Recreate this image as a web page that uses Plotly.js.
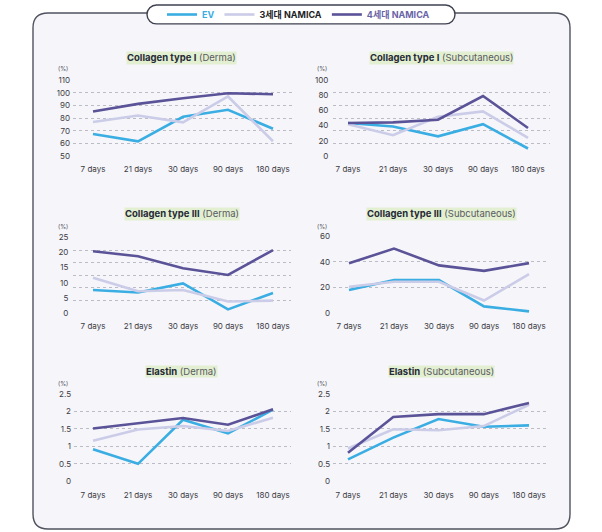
<!DOCTYPE html>
<html><head><meta charset="utf-8">
<script src="https://cdn.plot.ly/plotly-3.0.1.min.js"></script>
<style>html,body{margin:0;padding:0;background:#fff}#chart{width:602px;height:532px}</style>
</head><body><div id="chart"></div><script>
// ---------- data ----------
const days = ['7 days', '21 days', '30 days', '90 days', '180 days'];
const seriesNames = ['EV', '3세대 NAMICA', '4세대 NAMICA'];

const col1DermaEV = [67.5, 61.7, 81, 86.5, 71.6];
const col1Derma3  = [76.9, 82, 76.6, 97, 61.7];
const col1Derma4  = [85.2, 91.2, 95.6, 99.6, 98.8];

const col1SubEV = [43.5, 39, 26, 42, 10];
const col1Sub3  = [42, 27.4, 51.7, 58.7, 24];
const col1Sub4  = [43.5, 44.3, 47.8, 79, 37];

const col3DermaEV = [7.6, 6.8, 9.8, 1.2, 6.6];
const col3Derma3  = [11.7, 7.2, 7.6, 3.8, 4.1];
const col3Derma4  = [20.4, 18.8, 14.8, 12.6, 20.8];

const col3SubEV = [18, 25.8, 25.8, 5.2, 1.3];
const col3Sub3  = [20.6, 24.5, 24.5, 9.8, 30.4];
const col3Sub4  = [38.9, 50.5, 37.3, 33, 39.1];

const elaDermaEV = [0.92, 0.5, 1.76, 1.37, 2.05];
const elaDerma3  = [1.16, 1.48, 1.58, 1.44, 1.82];
const elaDerma4  = [1.51, 1.65, 1.81, 1.62, 2.06];

const elaSubEV = [0.63, 1.25, 1.78, 1.56, 1.6];
const elaSub3  = [0.94, 1.49, 1.46, 1.58, 2.19];
const elaSub4  = [0.82, 1.84, 1.92, 1.92, 2.24];

const titlesBold = ['Collagen type I', 'Collagen type I', 'Collagen type III', 'Collagen type III', 'Elastin', 'Elastin'];
const titlesRest = ['(Derma)', '(Subcutaneous)', '(Derma)', '(Subcutaneous)', '(Derma)', '(Subcutaneous)'];

const ticks1 = [50, 60, 70, 80, 90, 100, 110];
const ticks2 = [0, 20, 40, 60, 80, 100];
const ticks3 = [0, 5, 10, 15, 20, 25];
const ticks4 = [0, 20, 40, 60];
const ticks5 = [0, 0.5, 1, 1.5, 2, 2.5];
const tickText5 = ['0', '0.5', '1', '1.5', '2', '2.5'];

const panelData = [
  [col1DermaEV, col1Derma3, col1Derma4],
  [col1SubEV, col1Sub3, col1Sub4],
  [col3DermaEV, col3Derma3, col3Derma4],
  [col3SubEV, col3Sub3, col3Sub4],
  [elaDermaEV, elaDerma3, elaDerma4],
  [elaSubEV, elaSub3, elaSub4]
];

// ---------- styling / layout ----------
const W = 602, H = 532;
const colors = ['#3aaee2', '#cbcce8', '#5a5398'];
const legendColors = ['#3aaee2', '#1e1e28', '#6a63a8'];
const FONT = 'Inter, "Noto Sans CJK KR", sans-serif';
const gridColor = '#bcbcc6';

// gridSteps: number of dotted grid intervals when they differ from the labelled ticks
const panels = [
  {x0:73, x1:292, yt:78,  yb:155,   c0:93,  c4:273, yr:[50,110], labels:ticks1, text:null, gridSteps:0, tx:181, ty:56,  px:63,  py:67},
  {x0:333,x1:550, yt:78,  yb:155,   c0:348, c4:528, yr:[0,100],  labels:ticks2, text:null, gridSteps:6, tx:441, ty:56, px:322, py:67},
  {x0:73, x1:291, yt:236, yb:312.5, c0:93,  c4:273, yr:[0,25],   labels:ticks3, text:null, gridSteps:6, tx:182, ty:213, px:63, py:225},
  {x0:333,x1:549, yt:235, yb:312.5, c0:349, c4:529, yr:[0,60],   labels:ticks4, text:null, gridSteps:0, tx:441, ty:213, px:322, py:225},
  {x0:74, x1:291, yt:393, yb:481.5, c0:93,  c4:273, yr:[0,2.5],  labels:ticks5, text:tickText5, gridSteps:0, tx:181, ty:371, px:63, py:383},
  {x0:333,x1:549, yt:393, yb:481.5, c0:348, c4:529, yr:[0,2.5],  labels:ticks5, text:tickText5, gridSteps:0, tx:441, ty:371, px:322, py:383}
];

const px2x = x => x / W;
const px2y = y => 1 - y / H;

const data = [];
const layout = {
  width: W, height: H,
  margin: {l:0, r:0, t:0, b:0},
  paper_bgcolor: '#ffffff',
  plot_bgcolor: 'rgba(0,0,0,0)',
  font: {family: FONT, color: '#444'},
  showlegend: true,
  legend: {
    orientation: 'h', x: px2x(162), xanchor: 'left', y: px2y(12.5), yanchor: 'middle',
    bgcolor: 'rgba(0,0,0,0)', borderwidth: 0, font: {size: 9, family: FONT},
    itemwidth: 30, itemclick: false, itemdoubleclick: false
  },
  shapes: [], annotations: []
};

panels.forEach((p, i) => {
  const n = i + 1;
  const xa = 'xaxis' + (n === 1 ? '' : n), ya = 'yaxis' + (n === 1 ? '' : n);
  const unit = (p.c4 - p.c0) / 4;
  const span = p.yr[1] - p.yr[0], eps = span * 0.004;
  layout[xa] = {
    domain: [px2x(p.x0), px2x(p.x1)], anchor: 'y' + n, type: 'category',
    range: [(p.x0 - p.c0) / unit, (p.x1 - p.c0) / unit],
    showgrid: false, zeroline: false, showline: false, ticks: '',
    tickfont: {size: 8, color: '#3c3c44', family: FONT}, ticklabelstandoff: 7,
    fixedrange: true
  };
  const sep = p.gridSteps > 0;
  layout[ya] = {
    domain: [px2y(p.yb), px2y(p.yt)], anchor: 'x' + n,
    range: [p.yr[0] - eps, p.yr[1] + eps],
    tickmode: 'array', tickvals: p.labels, ticktext: p.text || p.labels.map(String),
    showgrid: !sep, gridcolor: gridColor, gridwidth: 1, griddash: 'dot',
    zeroline: false, showline: false,
    ticks: sep ? 'outside' : '', ticklen: 0, tickcolor: 'rgba(0,0,0,0)',
    tickfont: {size: 8, color: '#3c3c44', family: FONT}, ticklabelstandoff: 2,
    fixedrange: true
  };
  if (sep) {
    layout[ya].minor = {
      tickmode: 'linear', tick0: p.yr[0], dtick: span / p.gridSteps,
      ticks: 'inside', ticklen: 0, tickcolor: 'rgba(0,0,0,0)',
      showgrid: true, gridcolor: gridColor, gridwidth: 1, griddash: 'dot'
    };
  }
  panelData[i].forEach((vals, s) => {
    data.push({
      type: 'scatter', mode: 'lines', x: days, y: vals,
      xaxis: 'x' + n, yaxis: 'y' + n,
      name: '<b><span style="color:' + legendColors[s] + '">' + seriesNames[s] + '</span></b>',
      legendgroup: 's' + s, showlegend: i === 0,
      line: {color: colors[s], width: 2.6}, hoverinfo: 'skip'
    });
  });
  layout.annotations.push({
    xref: 'paper', yref: 'paper', x: px2x(p.tx), y: px2y(p.ty), xanchor: 'center', yanchor: 'middle',
    text: '<b>' + titlesBold[i] + '</b> <span style="color:#5a5a62">' + titlesRest[i] + '</span>',
    showarrow: false, bgcolor: '#e2efd1', borderpad: 0,
    font: {size: 9.5, color: '#262a36', family: FONT}
  });
  layout.annotations.push({
    xref: 'paper', yref: 'paper', x: px2x(p.px), y: px2y(p.py), xanchor: 'center', yanchor: 'middle',
    text: '(%)', showarrow: false, font: {size: 6, color: '#55555e', family: FONT}
  });
});

// rounded frame and legend pill
function roundRect(x0, y0, x1, y1, r) {
  const P = (x, y) => px2x(x) + ',' + px2y(y);
  return 'M' + P(x0 + r, y0) + ' L' + P(x1 - r, y0) + ' Q' + P(x1, y0) + ' ' + P(x1, y0 + r) +
    ' L' + P(x1, y1 - r) + ' Q' + P(x1, y1) + ' ' + P(x1 - r, y1) +
    ' L' + P(x0 + r, y1) + ' Q' + P(x0, y1) + ' ' + P(x0, y1 - r) +
    ' L' + P(x0, y0 + r) + ' Q' + P(x0, y0) + ' ' + P(x0 + r, y0) + ' Z';
}
function pill(x0, y0, x1, y1) {
  const P = (x, y) => px2x(x) + ',' + px2y(y);
  const r = (y1 - y0) / 2, k = 0.5523 * r;
  return 'M' + P(x0 + r, y0) + ' L' + P(x1 - r, y0) +
    ' C' + P(x1 - r + k, y0) + ' ' + P(x1, y0 + r - k) + ' ' + P(x1, y0 + r) +
    ' C' + P(x1, y0 + r + k) + ' ' + P(x1 - r + k, y1) + ' ' + P(x1 - r, y1) +
    ' L' + P(x0 + r, y1) +
    ' C' + P(x0 + r - k, y1) + ' ' + P(x0, y0 + r + k) + ' ' + P(x0, y0 + r) +
    ' C' + P(x0, y0 + r - k) + ' ' + P(x0 + r - k, y0) + ' ' + P(x0 + r, y0) + ' Z';
}
layout.shapes.push({type: 'path', xref: 'paper', yref: 'paper', layer: 'below',
  path: roundRect(33, 11, 570, 529, 15), fillcolor: '#f6f5fa', line: {color: '#50535f', width: 1.4}});
layout.shapes.push({type: 'path', xref: 'paper', yref: 'paper', layer: 'below',
  path: pill(147, 3, 455, 22), fillcolor: '#ffffff', line: {color: '#3e4150', width: 1.4}});

Plotly.newPlot('chart', data, layout, {displayModeBar: false, staticPlot: true});
</script></body></html>
